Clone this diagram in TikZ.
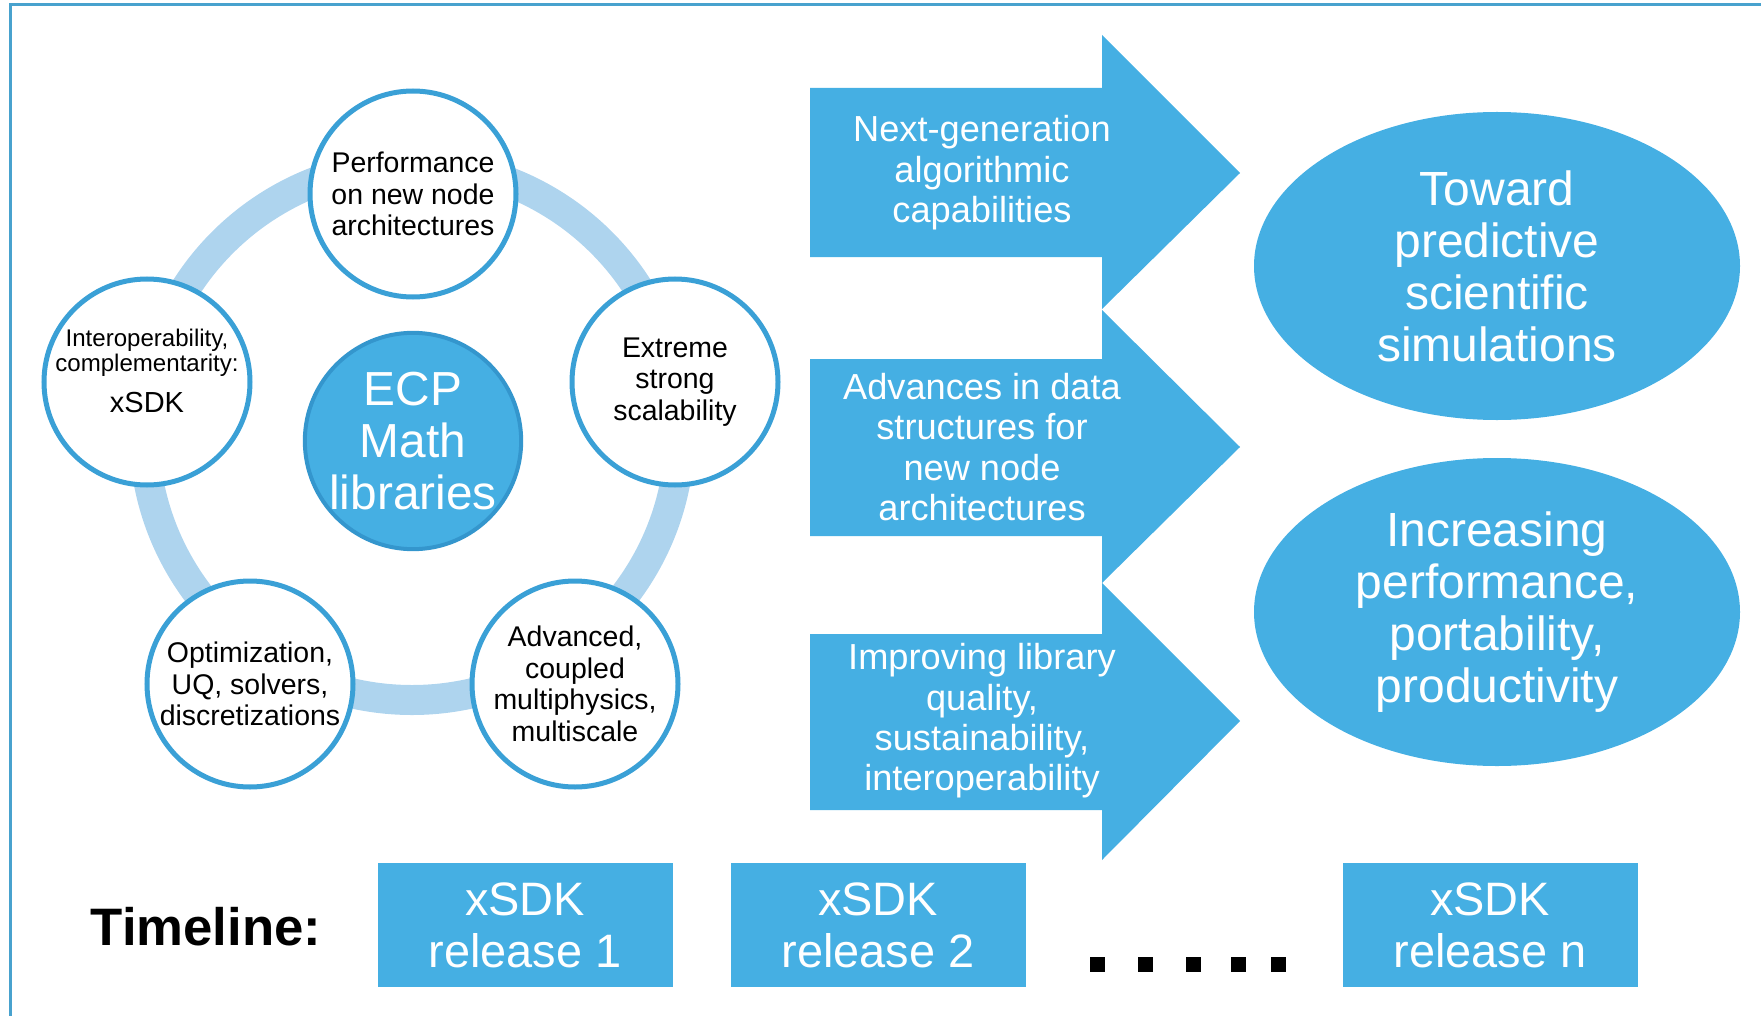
\documentclass[tikz,border=0pt]{standalone}
\usepackage{fontspec}
\setmainfont{Liberation Sans}
\usepackage{tikz}
\usepackage{xcolor}
\usetikzlibrary{shapes.geometric}
\definecolor{skyblue}{RGB}{69, 175, 227}
\definecolor{ringblue}{RGB}{174, 212, 238}
\definecolor{rimblue}{RGB}{58, 160, 214}
\definecolor{hubrim}{RGB}{52, 150, 205}
\definecolor{frameblue}{RGB}{72, 162, 206}

\begin{document}
\begin{tikzpicture}[
    x=0.2mm, y=-0.2mm,
    pillar/.style={circle, draw=rimblue, line width=1mm, fill=white, minimum size=41.2mm, inner sep=0pt, align=center, font=\fontsize{16.2}{18}\selectfont},
    hub/.style={circle, draw=hubrim, line width=0.8mm, fill=skyblue, minimum size=41.6mm, inner sep=0pt, align=center, text=white, font=\fontsize{27.2}{29.4}\selectfont},
    flowtext/.style={align=center, text=white, font=\fontsize{20.6}{23}\selectfont},
    goal/.style={ellipse, fill=skyblue, minimum width=97.2mm, minimum height=61.6mm, inner sep=0pt, align=center, text=white, font=\fontsize{27.3}{29.6}\selectfont},
    release/.style={rectangle, fill=skyblue, minimum width=59mm, minimum height=24.8mm, align=center, text=white, font=\fontsize{26.7}{29.6}\selectfont},
    band/.style={ringblue, line width=6mm}
]

\useasboundingbox (0,0) rectangle (1761,1016);

% frame, top and left edges only
\draw[frameblue, line width=0.6mm] (10,1016) -- (10,5) -- (1761,5);

% ring behind the five topics
\draw[band] (412,432) circle [radius=53.6mm];

\node[pillar] (perf) at (413,194) {Performance\\on new node\\architectures};
\node[pillar] (scal) at (675,382) {Extreme\\strong\\scalability};
\node[pillar] (multi) at (575,684) {Advanced,\\coupled\\multiphysics,\\multiscale};
\node[pillar] (optim) at (250,684) {Optimization,\\UQ, solvers,\\discretizations};
\node[pillar] (interop) at (147,382) {};
\node[align=center, font=\fontsize{13.7}{14.2}\selectfont] (interop-txt) at (147,371) {Interoperability,\\complementarity:\\[8pt]{\fontsize{16.5}{18}\selectfont xSDK}};

\node[hub] (ecp) at (413,441) {ECP\\Math\\libraries};

% three block arrows
\fill[skyblue] (810,88) -- (1102,88) -- (1102,35) -- (1240,173) -- (1102,309) -- (1102,257) -- (810,257) -- cycle;
\fill[skyblue] (810,359) -- (1102,359) -- (1102,310) -- (1240,447) -- (1102,583) -- (1102,536) -- (810,536) -- cycle;
\fill[skyblue] (810,634) -- (1102,634) -- (1102,583) -- (1240,721) -- (1102,860) -- (1102,810) -- (810,810) -- cycle;

\node[flowtext] (algo) at (982,173) {Next-generation\\algorithmic\\capabilities};
\node[flowtext] (data) at (982,447) {Advances in data\\structures for\\new node\\architectures};
\node[flowtext] (quality) at (982,721) {Improving library\\quality,\\sustainability,\\interoperability};

\node[goal] (predict) at (1497,266) {Toward\\predictive\\scientific\\simulations};
\node[goal] (portable) at (1497,612) {Increasing\\performance,\\portability,\\productivity};

% timeline row
\node[font=\fontsize{30}{32}\selectfont\bfseries] (timeline) at (206,927) {Timeline:};
\node[release] (rel1) at (525,925) {xSDK\\release 1};
\node[release] (rel2) at (878,925) {xSDK\\release 2};
\node[release] (reln) at (1490,925) {xSDK\\release n};

\foreach \x in {1097,1145,1193,1238,1278}
    \fill (\x-7.5,957) rectangle ++(15,15);

\end{tikzpicture}
\end{document}
